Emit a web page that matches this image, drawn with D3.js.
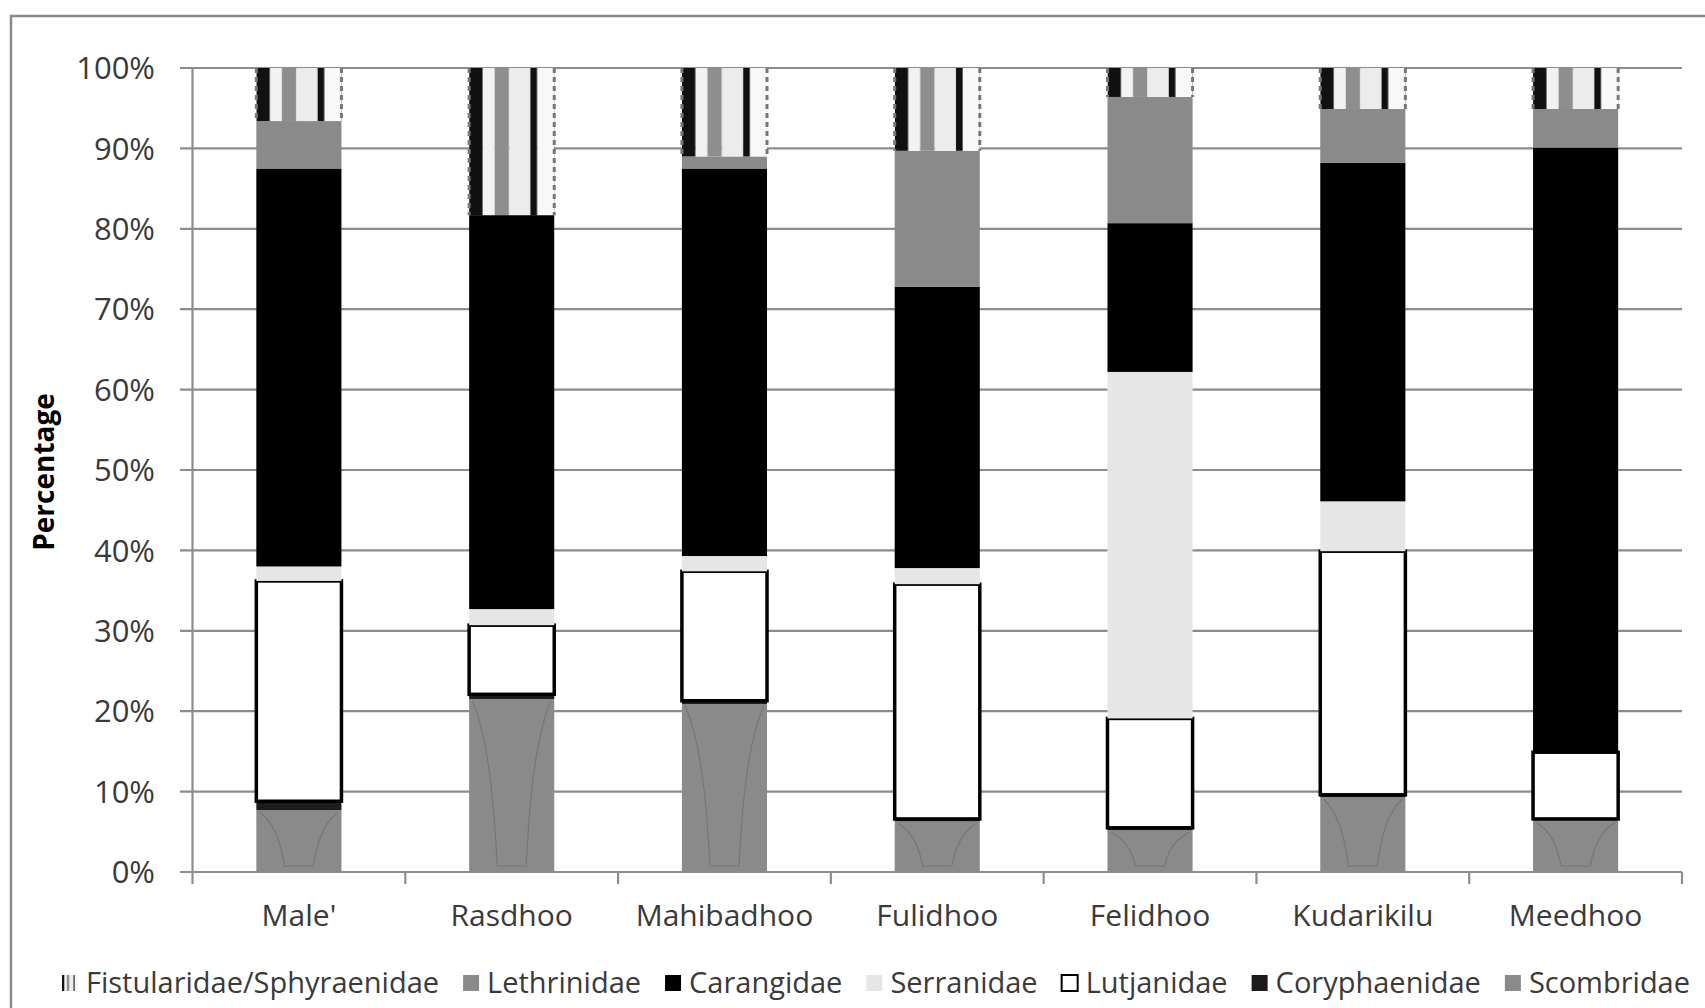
<!DOCTYPE html>
<html><head><meta charset="utf-8">
<script src="https://cdn.jsdelivr.net/npm/d3@7"></script>
<style>body{margin:0;background:#fff}svg{display:block}</style>
</head><body>
<svg id="c" width="1705" height="1008"></svg>
<script>
const categories = ["Male'", "Rasdhoo", "Mahibadhoo", "Fulidhoo", "Felidhoo", "Kudarikilu", "Meedhoo"];
// stacking order bottom -> top
const seriesNames = ["Scombridae", "Coryphaenidae", "Lutjanidae", "Serranidae", "Carangidae", "Lethrinidae", "Fistularidae/Sphyraenidae"];
const scombridae    = [7.7, 21.5, 20.9, 6.3, 5.2, 9.3, 6.4];
const coryphaenidae = [1.1, 0.6, 0.4, 0.3, 0.3, 0.3, 0.2];
const lutjanidae    = [27.4, 8.6, 16.1, 29.2, 13.6, 30.3, 8.3];
const serranidae    = [1.8, 2.0, 1.9, 2.0, 43.1, 6.2, 0.0];
const carangidae    = [49.5, 49.0, 48.2, 35.0, 18.5, 42.1, 75.2];
const lethrinidae   = [5.9, 0.0, 1.5, 16.9, 15.7, 6.7, 4.8];
const fistularidae  = [6.6, 18.3, 11.0, 10.3, 3.6, 5.1, 5.1];
const yTicks = [0, 10, 20, 30, 40, 50, 60, 70, 80, 90, 100];
const legendOrder = ["Fistularidae/Sphyraenidae", "Lethrinidae", "Carangidae", "Serranidae", "Lutjanidae", "Coryphaenidae", "Scombridae"];

const seriesValues = [scombridae, coryphaenidae, lutjanidae, serranidae, carangidae, lethrinidae, fistularidae];
const rows = categories.map((c, i) => {
  const r = {cat: c};
  seriesNames.forEach((s, k) => r[s] = seriesValues[k][i]);
  return r;
});
const stacked = d3.stack().keys(seriesNames)(rows);

const fills = {
  "Scombridae": "#8a8a8a",
  "Coryphaenidae": "#1c1c1c",
  "Lutjanidae": "#ffffff",
  "Serranidae": "#e6e6e6",
  "Carangidae": "#000000",
  "Lethrinidae": "#8a8a8a",
  "Fistularidae/Sphyraenidae": "url(#stripes)"
};

const svg = d3.select("#c");
const font = "'Open Sans', sans-serif";
const textCol = "#3a3a3a";
const gridCol = "#8c8c8c";

// defs: striped pattern
const defs = svg.append("defs");
const pat = defs.append("pattern").attr("id", "stripes")
  .attr("patternUnits", "objectBoundingBox").attr("patternContentUnits", "objectBoundingBox")
  .attr("width", 1).attr("height", 1);
const stripes = [[0, 0.16, "#111"], [0.16, 0.3, "#f2f2f2"], [0.3, 0.47, "#8e8e8e"], [0.47, 0.72, "#ececec"], [0.72, 0.8, "#111"], [0.8, 1, "#f8f8f8"]];
stripes.forEach(s => pat.append("rect").attr("x", s[0]).attr("y", 0).attr("width", s[1] - s[0]).attr("height", 1).attr("fill", s[2]));

// outer frame
svg.append("path").attr("d", "M11,1008 V16 H1705").attr("fill", "none").attr("stroke", "#8a8a8a").attr("stroke-width", 2.5);

const x = d3.scaleBand().domain(categories).range([192.5, 1682]).paddingInner(0.6).paddingOuter(0.3);
const y = d3.scaleLinear().domain([0, 100]).range([872, 68]);

// grid lines
svg.append("g").selectAll("line").data(yTicks).join("line")
  .attr("x1", 180).attr("x2", 1682)
  .attr("y1", d => y(d)).attr("y2", d => y(d))
  .attr("stroke", gridCol).attr("stroke-width", 2.2);
// y axis line
svg.append("line").attr("x1", 192.5).attr("x2", 192.5).attr("y1", y(100)).attr("y2", y(0))
  .attr("stroke", gridCol).attr("stroke-width", 2.2);
// x category ticks at band boundaries
const step = x.step();
const bounds = d3.range(categories.length + 1).map(i => 192.5 + i * step);
svg.append("g").selectAll("line").data(bounds).join("line")
  .attr("x1", d => d).attr("x2", d => d).attr("y1", y(0)).attr("y2", y(0) + 12)
  .attr("stroke", gridCol).attr("stroke-width", 2.2);

// y tick labels
svg.append("g").selectAll("text").data(yTicks).join("text")
  .attr("x", 155).attr("y", d => y(d)).attr("dy", "0.36em")
  .attr("text-anchor", "end").attr("font-family", font).attr("font-size", 31)
  .attr("fill", textCol).text(d => d + "%");

// category labels
svg.append("g").selectAll("text").data(categories).join("text")
  .attr("x", d => x(d) + x.bandwidth() / 2).attr("y", 915).attr("dy", "0.36em")
  .attr("text-anchor", "middle").attr("font-family", font).attr("font-size", 30)
  .attr("fill", textCol).text(d => d);

// y title
svg.append("text").attr("transform", "translate(44,472) rotate(-90)")
  .attr("text-anchor", "middle").attr("dy", "0.36em")
  .attr("font-family", font).attr("font-weight", "bold").attr("font-size", 28)
  .attr("fill", "#000").text("Percentage");

// bars
const layers = svg.append("g").selectAll("g").data(stacked).join("g");
layers.each(function(layer) {
  const g = d3.select(this);
  const key = layer.key;
  const segs = layer.filter(d => d[1] - d[0] > 0);
  g.selectAll("rect").data(segs).join("rect")
    .attr("x", d => x(d.data.cat))
    .attr("width", x.bandwidth())
    .attr("y", d => y(d[1]))
    .attr("height", d => y(d[0]) - y(d[1]))
    .attr("fill", fills[key])
    .attr("stroke", key === "Lutjanidae" ? "#000" : "none")
    .attr("stroke-width", key === "Lutjanidae" ? 3.5 : 0);
  if (key === "Scombridae") {
    // faint cup-shaped texture inside the Scombridae fill
    g.selectAll("path.cup").data(segs).join("path").attr("class", "cup")
      .attr("d", d => {
        const x0 = x(d.data.cat), w = x.bandwidth();
        const top = y(d[1]) + 2, bot = y(d[0]) - 6;
        const h = bot - top;
        return `M${x0 + 0.04 * w},${top} C${x0 + 0.2 * w},${top + 0.2 * h} ${x0 + 0.28 * w},${top + 0.5 * h} ${x0 + 0.33 * w},${bot} L${x0 + 0.67 * w},${bot} C${x0 + 0.72 * w},${top + 0.5 * h} ${x0 + 0.8 * w},${top + 0.2 * h} ${x0 + 0.96 * w},${top}`;
      })
      .attr("fill", "none").attr("stroke", "#6e6e6e").attr("stroke-width", 1.2).attr("opacity", 0.7);
  }
  if (key === "Fistularidae/Sphyraenidae") {
    g.selectAll("line.edge").data(segs.flatMap(d => [{d, side: 0}, {d, side: 1}])).join("line")
      .attr("class", "edge")
      .attr("x1", e => x(e.d.data.cat) + e.side * x.bandwidth())
      .attr("x2", e => x(e.d.data.cat) + e.side * x.bandwidth())
      .attr("y1", e => y(e.d[1])).attr("y2", e => y(e.d[0]))
      .attr("stroke", "#777").attr("stroke-width", 3).attr("stroke-dasharray", "5,4");
  }
});

// legend
const lg = svg.append("g");
let lx = 62;
const ly = 983;
legendOrder.forEach(name => {
  const item = lg.append("g");
  item.append("rect").attr("x", lx).attr("y", ly - 8).attr("width", 16).attr("height", 16)
    .attr("fill", name === "Fistularidae/Sphyraenidae" ? "url(#stripes)" : fills[name])
    .attr("stroke", name === "Lutjanidae" ? "#000" : "none").attr("stroke-width", 2);
  const t = item.append("text").attr("x", lx + 24).attr("y", ly).attr("dy", "0.36em")
    .attr("font-family", font).attr("font-size", 29).attr("fill", textCol).text(name);
  lx += 24 + t.node().getComputedTextLength() + 24;
});
</script>
</body></html>
